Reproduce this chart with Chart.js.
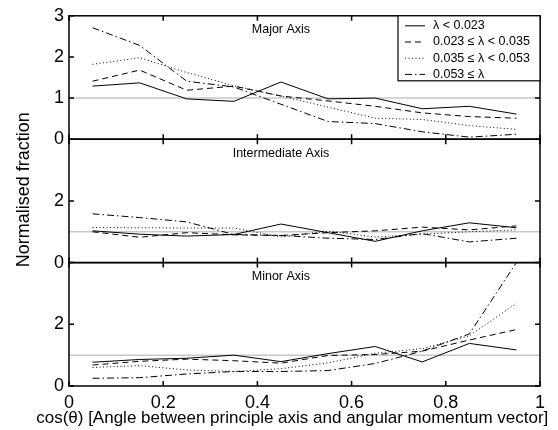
<!DOCTYPE html>
<html>
<head>
<meta charset="utf-8">
<script src="https://cdn.jsdelivr.net/npm/chart.js@4.4.1/dist/chart.umd.min.js"></script>
<style>
  body { margin: 0; background: #fff; }
  canvas { display: block; }
</style>
</head>
<body>
<canvas id="axisChart" width="558" height="430"></canvas>
<script>
// bin centres of cos(theta)
const binCentres = [0.05, 0.15, 0.25, 0.35, 0.45, 0.55, 0.65, 0.75, 0.85, 0.95];
const lambdaLabels = ['λ < 0.023', '0.023 ≤ λ < 0.035', '0.035 ≤ λ < 0.053', '0.053 ≤ λ'];

// Major axis
const majorLow  = [1.29, 1.37, 0.98, 0.92, 1.39, 0.98, 1.00, 0.74, 0.80, 0.61];
const majorMid  = [1.41, 1.68, 1.19, 1.29, 1.05, 0.93, 0.80, 0.64, 0.55, 0.51];
const majorHigh = [1.82, 1.98, 1.62, 1.30, 1.05, 0.78, 0.51, 0.48, 0.33, 0.24];
const majorTop  = [2.71, 2.28, 1.41, 1.27, 0.85, 0.43, 0.38, 0.18, 0.05, 0.12];

// Intermediate axis
const interLow  = [1.03, 0.92, 0.86, 0.91, 1.25, 0.97, 0.69, 1.03, 1.29, 1.13];
const interMid  = [1.00, 0.82, 0.97, 0.90, 0.88, 0.97, 1.03, 1.15, 1.06, 1.19];
const interHigh = [1.14, 1.13, 1.12, 1.12, 0.83, 1.02, 0.83, 0.92, 1.00, 1.06];
const interTop  = [1.58, 1.46, 1.32, 0.91, 0.88, 0.79, 0.75, 0.94, 0.67, 0.79];

// Minor axis
const minorLow  = [0.77, 0.86, 0.90, 1.00, 0.79, 1.05, 1.28, 0.78, 1.38, 1.17];
const minorMid  = [0.68, 0.80, 0.87, 0.82, 0.74, 0.99, 1.02, 1.13, 1.49, 1.83];
const minorHigh = [0.60, 0.66, 0.52, 0.47, 0.56, 0.75, 1.06, 1.21, 1.63, 2.68];
const minorTop  = [0.25, 0.27, 0.39, 0.47, 0.47, 0.50, 0.73, 1.13, 1.69, 4.00];

// isotropic reference level
const refX = [0, 1];
const refY = [1, 1];

const xTicks = [0, 0.2, 0.4, 0.6, 0.8, 1];
const majorTicks = [0, 1, 2, 3];
const interTicks = [0, 2];
const minorTicks = [0, 2];

const xTitle = 'cos(θ) [Angle between principle axis and angular momentum vector]';
const yTitle = 'Normalised fraction';

const FONT = "'Liberation Sans', Arial, Helvetica, sans-serif";
const lineDashes = [[], [6, 4], [1, 2.5], [7, 3, 1.5, 3]];
const tickLen = 5;

const panels = [
  { id: 'yMajor', name: 'Major Axis', max: 3, ticks: majorTicks, series: [majorLow, majorMid, majorHigh, majorTop] },
  { id: 'yInter', name: 'Intermediate Axis', max: 4, ticks: interTicks, series: [interLow, interMid, interHigh, interTop] },
  { id: 'yMinor', name: 'Minor Axis', max: 4, ticks: minorTicks, series: [minorLow, minorMid, minorHigh, minorTop] }
];

const datasets = [];
panels.forEach(p => {
  p.series.forEach((vals, i) => {
    datasets.push({
      label: lambdaLabels[i],
      yAxisID: p.id,
      data: vals.map((v, k) => ({ x: binCentres[k], y: v })),
      borderColor: '#000',
      borderWidth: 1,
      borderDash: lineDashes[i],
      pointRadius: 0,
      tension: 0,
      order: 0
    });
  });
  datasets.push({
    label: 'unity',
    yAxisID: p.id,
    data: refX.map((x, k) => ({ x: x, y: refY[k] })),
    borderColor: '#c8c8c8',
    borderWidth: 1.5,
    pointRadius: 0,
    order: 1
  });
});

const scales = {
  x: {
    type: 'linear',
    min: 0,
    max: 1,
    afterBuildTicks: s => { s.ticks = xTicks.map(v => ({ value: v })); },
    afterFit: s => { s.height = 44; },
    grid: { display: false, drawTicks: false },
    border: { display: false },
    ticks: {
      color: '#000', font: { family: FONT, size: 18 }, padding: 6, maxRotation: 0, autoSkip: false,
      callback: v => String(v)
    }
  }
};
// listed bottom-first, the layout stacks left boxes in reverse
panels.slice().reverse().forEach(p => {
  scales[p.id] = {
    type: 'linear',
    position: 'left',
    stack: 'panels',
    stackWeight: 1,
    min: 0,
    max: p.max,
    afterBuildTicks: s => { s.ticks = p.ticks.map(v => ({ value: v })); },
    afterFit: s => { s.width = 67; },
    grid: { display: false, drawTicks: false },
    border: { display: false },
    ticks: { color: '#000', font: { family: FONT, size: 18 }, padding: 5, autoSkip: false }
  };
});

const framePlugin = {
  id: 'frames',
  afterDatasetsDraw(chart) {
    const { ctx, chartArea, scales } = chart;
    const xs = scales.x;
    const left = chartArea.left, right = chartArea.right;
    ctx.save();
    ctx.strokeStyle = '#000';
    ctx.lineWidth = 1.5;
    ctx.fillStyle = '#000';
    panels.forEach(p => {
      const ys = scales[p.id];
      const top = ys.top, bottom = ys.bottom;
      ctx.strokeRect(left, top, right - left, bottom - top);
      ctx.beginPath();
      p.ticks.forEach(v => {
        const y = ys.getPixelForValue(v);
        ctx.moveTo(left, y); ctx.lineTo(left + tickLen, y);
        ctx.moveTo(right, y); ctx.lineTo(right - tickLen, y);
      });
      xTicks.forEach(v => {
        const x = xs.getPixelForValue(v);
        ctx.moveTo(x, top); ctx.lineTo(x, top + tickLen);
        ctx.moveTo(x, bottom); ctx.lineTo(x, bottom - tickLen);
      });
      ctx.stroke();
      ctx.font = '12.5px ' + FONT;
      ctx.textAlign = 'center';
      ctx.textBaseline = 'middle';
      ctx.fillText(p.name, left + (right - left) * 0.45, top + 14);
    });

    // legend box in the top right corner of the first panel
    const top = scales[panels[0].id].top;
    const bw = 142, bh = 65;
    const bx = right - bw, by = top;
    ctx.fillStyle = '#fff';
    ctx.fillRect(bx, by, bw, bh);
    ctx.lineWidth = 1.2;
    ctx.strokeRect(bx, by, bw, bh);
    ctx.lineWidth = 1;
    ctx.fillStyle = '#000';
    ctx.font = '12.5px ' + FONT;
    ctx.textAlign = 'left';
    ctx.textBaseline = 'middle';
    lambdaLabels.forEach((lab, i) => {
      const y = by + 10 + 16.2 * i;
      ctx.setLineDash(lineDashes[i]);
      ctx.beginPath();
      ctx.moveTo(bx + 7, y);
      ctx.lineTo(bx + 27, y);
      ctx.stroke();
      ctx.setLineDash([]);
      ctx.fillText(lab, bx + 35, y);
    });

    // axis titles (wider than the plot area, so drawn here)
    ctx.font = '17px ' + FONT;
    ctx.textAlign = 'center';
    ctx.fillText(xTitle, left + (right - left) * 0.474, chartArea.bottom + 32);
    ctx.translate(24, chartArea.top + (chartArea.bottom - chartArea.top) * 0.47);
    ctx.rotate(-Math.PI / 2);
    ctx.font = '18px ' + FONT;
    ctx.fillText(yTitle, 0, 0);
    ctx.restore();
  }
};

new Chart(document.getElementById('axisChart'), {
  type: 'line',
  data: { datasets: datasets },
  options: {
    responsive: false,
    animation: false,
    devicePixelRatio: 1,
    layout: { padding: { left: 2, right: 18, top: 14, bottom: 0 } },
    plugins: { legend: { display: false }, tooltip: { enabled: false } },
    scales: scales
  },
  plugins: [framePlugin]
});
</script>
</body>
</html>
